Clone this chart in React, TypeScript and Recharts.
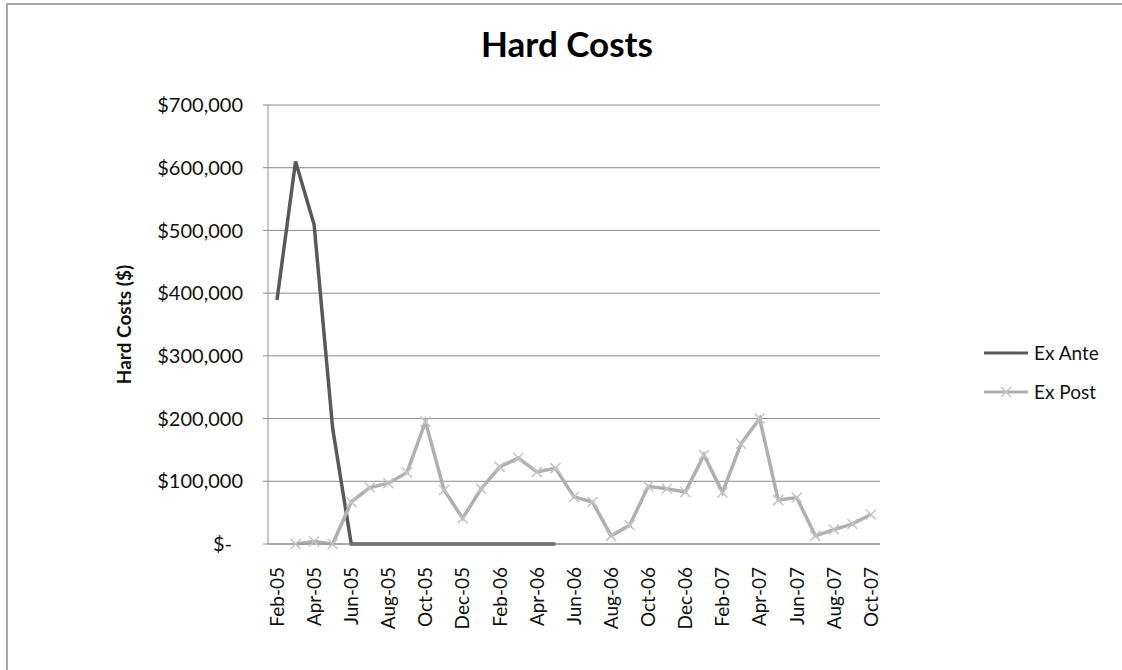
import React from 'react';
import { LineChart, Line, XAxis, YAxis, CartesianGrid, Legend } from 'recharts';

// Monthly hard costs, Feb-05 through Oct-07
const months = [
  'Feb-05', 'Mar-05', 'Apr-05', 'May-05', 'Jun-05', 'Jul-05', 'Aug-05', 'Sep-05', 'Oct-05', 'Nov-05', 'Dec-05',
  'Jan-06', 'Feb-06', 'Mar-06', 'Apr-06', 'May-06', 'Jun-06', 'Jul-06', 'Aug-06', 'Sep-06', 'Oct-06', 'Nov-06', 'Dec-06',
  'Jan-07', 'Feb-07', 'Mar-07', 'Apr-07', 'May-07', 'Jun-07', 'Jul-07', 'Aug-07', 'Sep-07', 'Oct-07',
];

const exAnte: (number | null)[] = [
  389000, 610000, 509000, 184000, 0, 0, 0, 0, 0, 0, 0,
  0, 0, 0, 0, 0, null, null, null, null, null, null, null,
  null, null, null, null, null, null, null, null, null, null,
];

const exPost: (number | null)[] = [
  null, 0, 4000, 0, 67000, 90000, 97000, 114000, 195000, 86000, 41000,
  88000, 123000, 137000, 115000, 121000, 75000, 67000, 13000, 30000, 92000, 88000, 83000,
  142000, 82000, 160000, 200000, 70000, 74000, 13000, 23000, 32000, 47000,
];

const yTicks = [0, 100000, 200000, 300000, 400000, 500000, 600000, 700000];

const data = months.map((month, i) => ({ month, exAnte: exAnte[i], exPost: exPost[i] }));

const FONT = 'Lato, "Open Sans", sans-serif';
const ANTE_COLOR = '#595959';
const POST_COLOR = '#b0b0b0';
const MARK_COLOR = '#c4c4c4';

const formatMoney = (v: number) => (v === 0 ? '$-' : '$' + v.toLocaleString('en-US'));

const YTick = (props: any) => {
  const { x, y, payload } = props;
  const zero = payload.value === 0;
  return (
    <text x={x} y={y} dx={zero ? -11 : 0} dy="0.36em" textAnchor="end" fontSize={20} fontFamily={FONT} fill="#111">
      {formatMoney(payload.value)}
    </text>
  );
};

const XTick = (props: any) => {
  const { x, y, payload } = props;
  return (
    <g transform={`translate(${x},${y})`}>
      <text x={-15} y={0} dy="0.36em" transform="rotate(-90)" textAnchor="end" fontSize={19} fontFamily={FONT} fill="#111">
        {payload.value}
      </text>
    </g>
  );
};

const XMark = (props: any) => {
  const { cx, cy, index, payload } = props;
  if (cx == null || cy == null || payload?.exPost == null) return <g key={`m-${index}`} />;
  const r = 5;
  return (
    <g key={`m-${index}`} stroke={MARK_COLOR} strokeWidth={1.5}>
      <line x1={cx - r} y1={cy - r} x2={cx + r} y2={cy + r} />
      <line x1={cx - r} y1={cy + r} x2={cx + r} y2={cy - r} />
    </g>
  );
};

const LegendBox = (props: any) => {
  const { payload = [] } = props;
  return (
    <div style={{ fontFamily: FONT, fontSize: 19, color: '#111' }}>
      {payload.map((entry: any) => (
        <div key={entry.value} style={{ display: 'flex', alignItems: 'center', height: 39 }}>
          <svg width={48} height={14} style={{ marginRight: 2 }}>
            <line x1={0} y1={7} x2={44} y2={7} stroke={entry.color} strokeWidth={3} />
            {entry.dataKey === 'exPost' && (
              <g stroke={MARK_COLOR} strokeWidth={1.5}>
                <line x1={17} y1={2} x2={27} y2={12} />
                <line x1={17} y1={12} x2={27} y2={2} />
              </g>
            )}
          </svg>
          <span>{entry.value}</span>
        </div>
      ))}
    </div>
  );
};

export default function App() {
  return (
    <div style={{ position: 'absolute', left: 0, top: 0, width: 1122, height: 670, background: '#fff', overflow: 'hidden' }}>
      <div
        style={{
          position: 'absolute', left: 6, top: 3, right: 0, bottom: 0,
          borderTop: '2px solid #aaaaaa', borderLeft: '2px solid #aaaaaa',
        }}
      />
      <div
        style={{
          position: 'absolute', left: 0, width: 1134, top: 22, textAlign: 'center',
          fontFamily: FONT, fontWeight: 700, fontSize: 35, color: '#000',
        }}
      >
        Hard Costs
      </div>
      <LineChart
        width={1122}
        height={670}
        data={data}
        margin={{ top: 105, right: 242, bottom: 0, left: 0 }}
        style={{ position: 'absolute', left: 0, top: 0 }}
      >
        <CartesianGrid vertical={false} stroke="#8c8c8c" strokeWidth={1} />
        <XAxis
          dataKey="month"
          interval={1}
          tick={<XTick />}
          tickLine={false}
          axisLine={{ stroke: '#8c8c8c' }}
          height={126}
          padding={{ left: 9, right: 9 }}
        />
        <YAxis
          width={268}
          domain={[0, 700000]}
          ticks={yTicks}
          tick={<YTick />}
          tickSize={5}
          tickMargin={20}
          tickLine={{ stroke: '#8c8c8c' }}
          axisLine={{ stroke: '#8c8c8c' }}
          label={{
            value: 'Hard Costs ($)', angle: -90, position: 'insideLeft', offset: 124,
            style: { fontFamily: FONT, fontWeight: 700, fontSize: 19, fill: '#111', textAnchor: 'middle' },
          }}
        />
        <Line
          type="linear"
          dataKey="exAnte"
          name="Ex Ante"
          stroke={ANTE_COLOR}
          strokeWidth={3.5}
          dot={false}
          activeDot={false}
          isAnimationActive={false}
        />
        <Line
          type="linear"
          dataKey="exPost"
          name="Ex Post"
          stroke={POST_COLOR}
          strokeWidth={3.5}
          dot={XMark}
          activeDot={false}
          isAnimationActive={false}
        />
        <Legend
          layout="vertical"
          align="center"
          verticalAlign="middle"
          content={<LegendBox />}
          wrapperStyle={{ left: 984, top: 333, width: 130 }}
        />
      </LineChart>
    </div>
  );
}
